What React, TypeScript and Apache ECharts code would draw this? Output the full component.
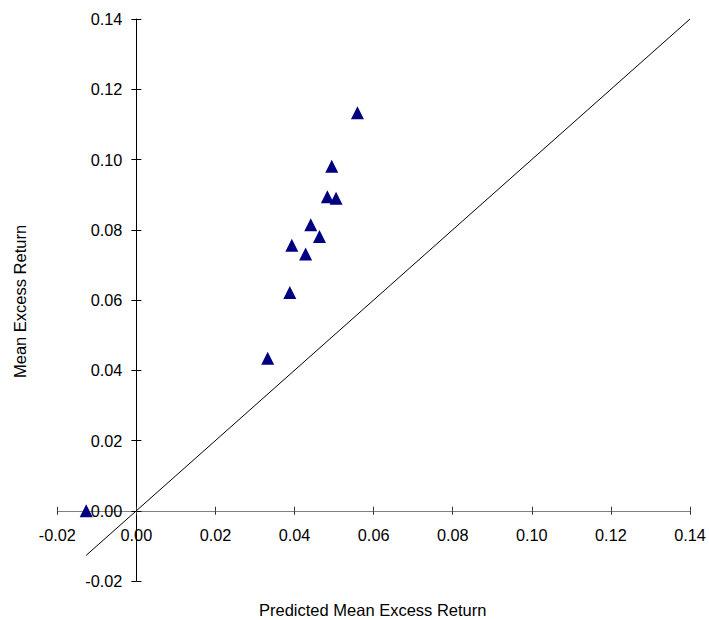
import React, { useEffect, useRef } from "react";
import * as echarts from "echarts";

const predicted = [-0.0127, 0.0332, 0.0388, 0.0393, 0.0428, 0.0441, 0.0463, 0.0483, 0.0505, 0.0494, 0.0559];
const actual = [0.0, 0.0434, 0.0621, 0.0756, 0.0731, 0.0814, 0.0781, 0.0894, 0.089, 0.0981, 0.1133];
const diagonal = [-0.0127, 0.14];
const xTitle = "Predicted Mean Excess Return";
const yTitle = "Mean Excess Return";

const AX_MIN = -0.02;
const AX_MAX = 0.14;

export default function App() {
  const ref = useRef<HTMLDivElement>(null);
  useEffect(() => {
    if (!ref.current) return;
    const chart = echarts.init(ref.current, null, { renderer: "svg" });
    const font = "'Liberation Sans', Arial, sans-serif";
    const fs = 16.3;
    const fmt = (v: number) => v.toFixed(2);
    const gridW = 632.7;
    const gridH = 562;
    // shift axes so that they cross at zero
    const xOffset = -(gridH * (0 - AX_MIN)) / (AX_MAX - AX_MIN);
    const yOffset = -(gridW * (0 - AX_MIN)) / (AX_MAX - AX_MIN);
    const baseAxis = {
      type: "value" as const,
      min: AX_MIN,
      max: AX_MAX,
      interval: 0.02,
      splitLine: { show: false },
    };
    chart.setOption({
      animation: false,
      backgroundColor: "#fff",
      grid: {
        left: 57.3,
        top: 19,
        width: gridW,
        height: gridH,
        containLabel: false,
        outerBoundsMode: "none",
      },
      xAxis: [
        {
          ...baseAxis,
          position: "bottom",
          offset: xOffset,
          axisLine: { onZero: false, lineStyle: { color: "#808080", width: 1 } },
          axisTick: { show: true, length: 4, lineStyle: { color: "#333" } },
          axisLabel: { margin: 16, color: "#000", fontSize: fs, fontFamily: font, formatter: fmt },
        },
        {
          ...baseAxis,
          position: "bottom",
          offset: xOffset,
          axisLine: { show: false, onZero: false },
          axisTick: { show: true, inside: true, length: 4, lineStyle: { color: "#333" } },
          axisLabel: { show: false },
        },
      ],
      yAxis: [
        {
          ...baseAxis,
          position: "left",
          offset: yOffset,
          axisLine: { onZero: false, lineStyle: { color: "#000", width: 1 } },
          axisTick: { show: true, length: 5, lineStyle: { color: "#000" } },
          axisLabel: { margin: 14, color: "#000", fontSize: fs, fontFamily: font, formatter: fmt },
        },
        {
          ...baseAxis,
          position: "left",
          offset: yOffset,
          axisLine: { show: false, onZero: false },
          axisTick: { show: true, inside: true, length: 5, lineStyle: { color: "#000" } },
          axisLabel: { show: false },
        },
      ],
      graphic: [
        {
          type: "text",
          left: 259,
          top: 601,
          style: { text: xTitle, fill: "#000", font: `16.5px ${font}` },
        },
        {
          type: "text",
          x: 11,
          y: 378,
          rotation: Math.PI / 2,
          style: { text: yTitle, fill: "#000", font: `16.5px ${font}` },
        },
      ],
      series: [
        {
          type: "line",
          data: diagonal.map((v) => [v, v]),
          symbol: "none",
          lineStyle: { color: "#000", width: 1 },
          z: 1,
          silent: true,
        },
        {
          type: "scatter",
          data: predicted.map((p, i) => [p, actual[i]]),
          symbol: "triangle",
          symbolSize: 13,
          itemStyle: { color: "#000080", opacity: 1 },
          z: 3,
        },
      ],
    });
    return () => chart.dispose();
  }, []);
  return (
    <div
      ref={ref}
      style={{ position: "fixed", left: 0, top: 0, width: 709, height: 620, background: "#fff" }}
    />
  );
}
